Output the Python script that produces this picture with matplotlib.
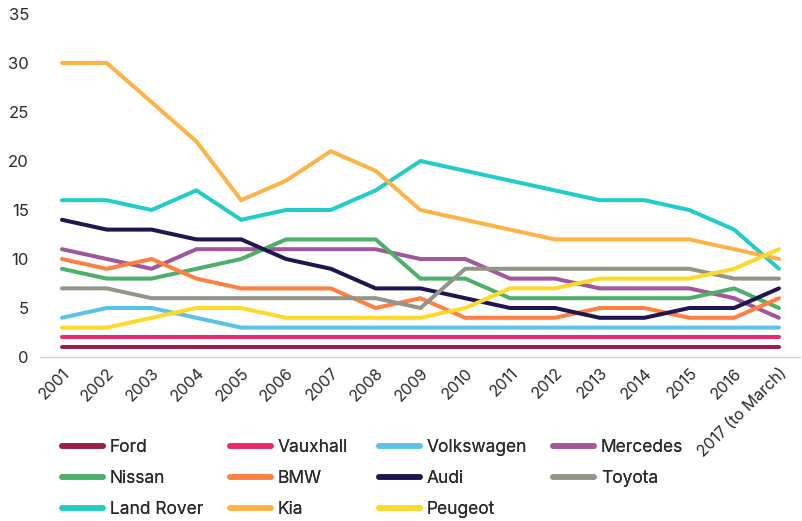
import matplotlib
matplotlib.use("Agg")
import matplotlib.pyplot as plt

# ------------------------------------------------------------------------------
# Data
# ------------------------------------------------------------------------------
years = ["2001", "2002", "2003", "2004", "2005", "2006", "2007", "2008", "2009",
         "2010", "2011", "2012", "2013", "2014", "2015", "2016", "2017 (to March)"]

ford = [1] * 17
vauxhall = [2] * 17
volkswagen = [4, 5, 5, 4, 3, 3, 3, 3, 3, 3, 3, 3, 3, 3, 3, 3, 3]
mercedes = [11, 10, 9, 11, 11, 11, 11, 11, 10, 10, 8, 8, 7, 7, 7, 6, 4]
nissan = [9, 8, 8, 9, 10, 12, 12, 12, 8, 8, 6, 6, 6, 6, 6, 7, 5]
bmw = [10, 9, 10, 8, 7, 7, 7, 5, 6, 4, 4, 4, 5, 5, 4, 4, 6]
audi = [14, 13, 13, 12, 12, 10, 9, 7, 7, 6, 5, 5, 4, 4, 5, 5, 7]
toyota = [7, 7, 6, 6, 6, 6, 6, 6, 5, 9, 9, 9, 9, 9, 9, 8, 8]
land_rover = [16, 16, 15, 17, 14, 15, 15, 17, 20, 19, 18, 17, 16, 16, 15, 13, 9]
kia = [30, 30, 26, 22, 16, 18, 21, 19, 15, 14, 13, 12, 12, 12, 12, 11, 10]
peugeot = [3, 3, 4, 5, 5, 4, 4, 4, 4, 5, 7, 7, 8, 8, 8, 9, 11]

series = [
    ("Ford", ford, "#9c1c4d"),
    ("Vauxhall", vauxhall, "#e8296f"),
    ("Volkswagen", volkswagen, "#5bc3e9"),
    ("Mercedes", mercedes, "#a2579a"),
    ("Nissan", nissan, "#4caf6a"),
    ("BMW", bmw, "#ff8040"),
    ("Audi", audi, "#1f1650"),
    ("Toyota", toyota, "#94948a"),
    ("Land Rover", land_rover, "#22ccc8"),
    ("Kia", kia, "#ffb347"),
    ("Peugeot", peugeot, "#ffd92a"),
]

plt.rcParams["font.family"] = ["Inter", "DejaVu Sans"]
TEXT = "#2a2a2a"

fig = plt.figure(figsize=(8.03, 5.21), dpi=100)
ax = fig.add_axes([40 / 803, 1 - 357 / 521, 760 / 803, 343 / 521])

x = list(range(len(years)))
handles = {}
for name, vals, color in series:
    (ln,) = ax.plot(x, vals, color=color, lw=2.9, solid_capstyle="round",
                    solid_joinstyle="miter", label=name)
    handles[name] = ln

ax.set_xlim(-0.49, 16.47)
ax.set_ylim(0, 35)
ax.set_yticks(range(0, 36, 5))
ax.set_xticks(x)
ax.set_xticklabels(years, rotation=45, ha="right", rotation_mode="anchor",
                   fontsize=11.5, color=TEXT)
for lbl in ax.get_yticklabels():
    lbl.set_fontsize(12)
    lbl.set_color(TEXT)
ax.tick_params(axis="both", length=0)
ax.tick_params(axis="y", pad=8)
ax.tick_params(axis="x", pad=6)
for side in ("top", "right", "left"):
    ax.spines[side].set_visible(False)
ax.spines["bottom"].set_color("#d0d0d0")
ax.spines["bottom"].set_linewidth(1)

# one legend per column so each column sits where the original has it
columns = [["Ford", "Nissan", "Land Rover"],
           ["Vauxhall", "BMW", "Kia"],
           ["Volkswagen", "Audi", "Peugeot"],
           ["Mercedes", "Toyota"]]
col_x = [62, 230, 379, 553]
for names, cx in zip(columns, col_x):
    leg = fig.legend([handles[n] for n in names], names,
                     loc="upper left", bbox_to_anchor=(cx / 803, 1 - 439 / 521),
                     frameon=False, fontsize=12.5, borderpad=0,
                     handlelength=2.36, handletextpad=0.4, labelspacing=0.81,
                     borderaxespad=0)
    for ln in leg.get_lines():
        ln.set_linewidth(4)
    for t in leg.get_texts():
        t.set_color(TEXT)
    fig.add_artist(leg)

fig.savefig("out.png", dpi=100)
